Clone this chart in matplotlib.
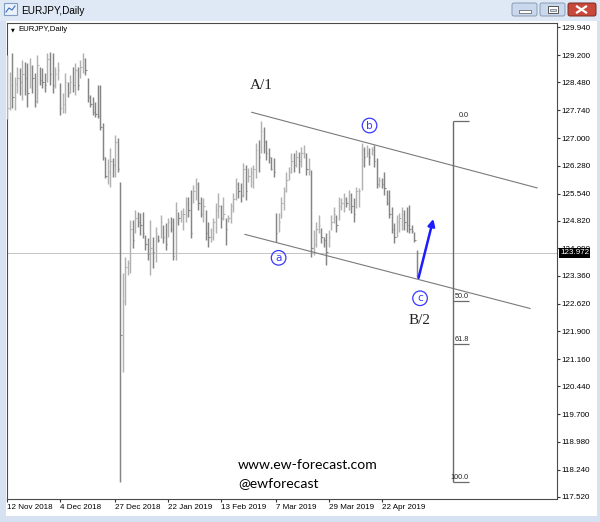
import matplotlib
matplotlib.use("Agg")
import matplotlib.pyplot as plt
import matplotlib.transforms as mtransforms
from matplotlib.patches import Rectangle, FancyBboxPatch
import numpy as np

# EURJPY daily bars (high / low / close)
highs = [129.21, 128.76, 129.26, 128.63, 128.89, 128.86, 129.08, 129.02, 129.00, 129.13,
         128.94, 128.73, 129.21, 128.89, 128.86, 128.73, 129.26, 129.29, 129.26, 128.89,
         129.02, 128.47, 128.20, 128.73, 128.49, 128.68, 128.89, 129.00, 128.89, 129.08,
         129.26, 129.13, 128.60, 128.15, 128.10, 127.96, 128.41, 128.41, 127.41, 126.51,
         126.45, 126.75, 126.48, 127.09, 127.01, 125.85,
         123.44, 123.86, 123.78, 124.84, 124.84, 125.11, 125.05, 125.03, 125.05, 124.45,
         124.37, 124.84, 124.39, 124.66, 124.45, 124.97, 124.71, 124.76, 124.90, 124.92,
         124.90, 125.32, 125.05, 125.11, 125.16, 125.45, 125.45, 125.64, 125.77, 125.95,
         125.85, 125.45, 125.42, 125.11, 124.79, 124.63, 124.90, 125.29, 125.56, 125.24,
         125.45, 124.90, 124.97, 125.29, 125.56, 125.95, 125.85, 125.82, 126.35, 126.30,
         126.22, 126.24, 126.30, 126.88, 126.96, 127.47, 127.30, 126.96, 126.75, 126.51,
         126.48, 125.03, 125.03, 125.45, 125.72, 126.11, 126.24, 126.61, 126.61, 126.69,
         126.64, 126.77, 126.83, 126.61, 126.48, 126.16, 124.58, 124.79, 124.97, 124.63,
         124.39, 124.50, 124.58, 124.97, 125.19, 124.97, 125.45, 125.42, 125.56, 125.45,
         125.64, 125.56, 125.42, 125.72, 125.69, 126.88, 126.77, 126.83, 126.75, 126.77,
         126.83, 126.48, 125.98, 125.95, 126.11, 125.64, 125.64, 125.19, 124.76, 124.97,
         125.03, 125.19, 125.11, 125.19, 125.24, 124.71, 124.52, 124.05]
lows = [127.51, 127.75, 127.80, 127.75, 128.20, 128.15, 128.02, 128.15, 127.83, 128.33,
        128.20, 127.83, 127.94, 128.41, 128.33, 128.23, 128.49, 128.41, 128.20, 128.33,
        128.55, 127.62, 127.67, 127.67, 128.10, 128.20, 128.23, 128.15, 128.28, 128.60,
        128.73, 128.67, 127.96, 127.83, 127.62, 127.57, 127.54, 127.22, 126.43, 125.95,
        125.80, 125.72, 125.98, 125.98, 126.11, 117.91,
        120.82, 122.59, 123.39, 123.44, 124.10, 124.50, 124.66, 124.45, 124.37, 124.05,
        123.78, 123.39, 123.57, 123.73, 124.26, 124.37, 124.23, 124.05, 124.39, 124.52,
        123.78, 123.78, 124.71, 124.79, 124.58, 124.79, 124.92, 124.37, 125.29, 125.37,
        125.11, 124.92, 124.79, 124.31, 124.13, 124.26, 124.31, 124.50, 124.90, 124.63,
        124.84, 124.18, 124.79, 124.76, 125.05, 125.37, 125.42, 125.32, 125.45, 125.37,
        125.85, 125.72, 125.69, 125.95, 126.11, 126.61, 126.61, 126.43, 126.35, 126.16,
        125.98, 124.26, 124.52, 124.90, 125.11, 125.58, 125.90, 126.08, 126.11, 126.24,
        126.08, 126.24, 126.48, 126.03, 126.03, 123.86, 123.92, 124.13, 124.50, 124.23,
        124.13, 123.65, 124.13, 124.58, 124.76, 124.52, 124.84, 125.11, 125.05, 125.19,
        125.11, 125.03, 124.79, 125.16, 125.19, 125.64, 126.24, 126.51, 126.30, 126.56,
        126.24, 125.69, 125.72, 125.69, 125.50, 125.24, 124.90, 124.50, 124.23, 124.39,
        124.52, 124.58, 124.58, 124.52, 124.50, 124.50, 124.26, 123.33]
closes = [127.80, 128.40, 128.10, 128.45, 128.60, 128.50, 128.70, 128.60, 128.20, 128.90,
          128.60, 128.00, 128.95, 128.55, 128.50, 128.40, 129.10, 128.70, 128.40, 128.70,
          128.80, 127.80, 127.90, 128.50, 128.20, 128.50, 128.40, 128.80, 128.40, 128.90,
          129.10, 128.80, 128.10, 127.90, 127.70, 127.65, 127.60, 127.30, 126.50, 126.00,
          126.10, 126.40, 126.30, 126.90, 126.20, 121.80,
          122.70, 123.60, 123.70, 124.60, 124.30, 124.90, 124.80, 124.70, 124.50, 124.20,
          123.95, 124.10, 124.00, 124.50, 124.30, 124.80, 124.40, 124.20, 124.80, 124.60,
          123.90, 125.10, 124.90, 125.00, 125.00, 125.30, 125.10, 124.50, 125.60, 125.80,
          125.30, 125.00, 125.20, 124.50, 124.40, 124.40, 124.80, 125.10, 125.20, 124.90,
          125.00, 124.60, 124.90, 125.20, 125.40, 125.80, 125.60, 125.50, 126.20, 125.60,
          126.00, 126.10, 126.20, 126.70, 126.50, 127.20, 126.90, 126.60, 126.50, 126.20,
          126.10, 124.50, 124.80, 125.30, 125.60, 125.90, 126.10, 126.40, 126.30, 126.50,
          126.40, 126.60, 126.60, 126.20, 126.20, 124.10, 124.20, 124.60, 124.70, 124.40,
          124.30, 124.00, 124.40, 124.80, 125.00, 124.70, 125.20, 125.30, 125.40, 125.30,
          125.50, 125.20, 125.00, 125.60, 125.60, 126.70, 126.50, 126.60, 126.50, 126.70,
          126.40, 125.80, 125.90, 125.80, 125.70, 125.30, 125.00, 124.60, 124.40, 124.80,
          124.90, 125.00, 124.80, 124.70, 124.60, 124.55, 124.30, 123.972]

date_ticks = [0, 21, 43, 64, 85, 107, 128, 149]
date_labels = ["12 Nov 2018", "4 Dec 2018", "27 Dec 2018", "22 Jan 2019",
               "13 Feb 2019", "7 Mar 2019", "29 Mar 2019", "22 Apr 2019"]
price_labels = ["129.940", "129.200", "128.480", "127.740", "127.000", "126.280",
                "125.540", "124.820", "124.090", "123.360", "122.620", "121.900",
                "121.160", "120.440", "119.700", "118.980", "118.240", "117.520"]
last_price = 123.972

# Fibonacci retracement (0.0 at the A/1 high, 100.0 at the flash crash low)
fib_top = 127.47
fib_bottom = 117.91
fib_levels = [0.0, 50.0, 61.8, 100.0]
fib_x = [177.5, 183.8]

# channel trendlines (bar index, price)
chan_up_x, chan_up_y = [97.3, 210.9], [127.69, 125.69]
chan_lo_x, chan_lo_y = [94.6, 208.1], [124.46, 122.50]

# wave labels
circ_labels = ["a", "b", "c"]
circ_x = [108.0, 144.2, 164.3]
circ_y = [123.84, 127.34, 122.77]
wave_text = ["A/1", "B/2"]
wave_x = [101.3, 164.1]
wave_y = [128.41, 122.17]
arrow_from = (163.7, 123.31)
arrow_to = (169.6, 124.87)

fig = plt.figure(figsize=(6, 5.22), dpi=100)
fig.patch.set_facecolor("#d6e2f1")

# ---- window chrome (pixel coords) ----
bg = fig.add_axes([0, 0, 1, 1], zorder=0)
bg.set_xlim(0, 600)
bg.set_ylim(522, 0)
bg.axis("off")
bg.add_patch(Rectangle((0, 0), 600, 21, facecolor="#dfe9f5", edgecolor="none"))
bg.add_patch(Rectangle((6, 21), 591, 495, facecolor="white", edgecolor="none"))
bg.add_patch(Rectangle((4, 3), 13, 12, facecolor="#eaf1fa", edgecolor="#7f9cc4", lw=0.8))
bg.plot([6, 9, 12, 15], [12, 8, 10, 6], color="#3a6fc0", lw=0.8)
bg.text(21, 10.5, "EURJPY,Daily", fontsize=7.2, va="center", ha="left",
        family="Liberation Sans", color="black")
for bx in [512, 540]:
    bg.add_patch(FancyBboxPatch((bx, 3), 25, 13, boxstyle="round,pad=0,rounding_size=2",
                                facecolor="#c9d8ec", edgecolor="#8a9bb4", lw=0.7))
bg.add_patch(Rectangle((518.5, 10), 12, 2.5, facecolor="white", edgecolor="#555", lw=0.5))
bg.add_patch(Rectangle((548, 6), 10, 7, facecolor="white", edgecolor="#555", lw=0.7))
bg.add_patch(Rectangle((550, 8.5), 6, 2.5, facecolor="#c9d8ec", edgecolor="#555", lw=0.4))
bg.add_patch(FancyBboxPatch((568, 3), 28, 13, boxstyle="round,pad=0,rounding_size=2",
                            facecolor="#c8483c", edgecolor="#7a2a22", lw=0.7))
bg.plot([577, 586], [6.5, 12.5], color="white", lw=1.6)
bg.plot([577, 586], [12.5, 6.5], color="white", lw=1.6)

# ---- price chart ----
ax = fig.add_axes([6.7 / 600, 23 / 522, 550 / 600, 476.3 / 522], zorder=1)
ax.set_facecolor("white")
ax.set_xlim(-0.24, 218.7)
ax.set_ylim(117.46, 130.06)

idx = np.arange(len(highs))
cl = np.array(closes)
prev = np.concatenate([[cl[0]], cl[:-1]])
cols = np.where(cl >= prev, "#b2b2b2", "#858585")
ax.vlines(idx, lows, highs, colors=cols, lw=1.05, zorder=3)
ax.hlines(cl, idx, idx + 0.55, colors=cols, lw=0.8, zorder=3)

ax.axhline(last_price, color="#c4c4c4", lw=0.7, zorder=2)

ax.plot(chan_up_x, chan_up_y, color="#7a7a7a", lw=0.8, zorder=4)
ax.plot(chan_lo_x, chan_lo_y, color="#7a7a7a", lw=0.8, zorder=4)

# fibonacci
ax.vlines(fib_x[0], fib_bottom, fib_top, color="#6a6a6a", lw=1.0, zorder=4)
for lvl in fib_levels:
    p = fib_top - lvl / 100.0 * (fib_top - fib_bottom)
    ax.hlines(p, fib_x[0], fib_x[1], color="#6a6a6a", lw=0.9, zorder=4)
    ax.text(fib_x[1] - 0.1, p + 0.03, f"{lvl:.1f}", fontsize=5.2, ha="right",
            va="bottom", family="Liberation Sans", color="#222222", zorder=5)

for t, x, y in zip(circ_labels, circ_x, circ_y):
    ax.text(x, y, t, fontsize=7.5, color="#3838ff", ha="center", va="center",
            family="DejaVu Sans", zorder=6,
            bbox=dict(boxstyle="circle,pad=0.22", fc="none", ec="#3838ff", lw=0.9))
for t, x, y in zip(wave_text, wave_x, wave_y):
    ax.text(x, y, t, fontsize=11, color="#222222", ha="center", va="center",
            family="Liberation Serif", zorder=6)

ax.annotate("", xy=arrow_to, xytext=arrow_from, zorder=6,
            arrowprops=dict(arrowstyle="-|>", color="#1c1cff", lw=1.8, mutation_scale=10,
                            shrinkA=0, shrinkB=0))

ax.text(0.4205, 0.0714, "www.ew-forecast.com", transform=ax.transAxes, fontsize=10.1,
        family="Lato", ha="left", va="center", color="black", zorder=6)
ax.text(0.4205, 0.0336, "@ewforecast", transform=ax.transAxes, fontsize=10.1,
        family="Lato", ha="left", va="center", color="black", zorder=6)

ax.text(0.0075, 0.985, "\u25bc", transform=ax.transAxes, fontsize=3.5,
        family="DejaVu Sans", ha="left", va="center", color="black")
ax.text(0.022, 0.985, "EURJPY,Daily", transform=ax.transAxes, fontsize=5.6,
        family="Liberation Sans", ha="left", va="center", color="black")

# axes styling
for s in ax.spines.values():
    s.set_color("#4a4a4a")
    s.set_linewidth(0.8)
ax.set_xticks(date_ticks)
ax.set_xticklabels(date_labels, ha="left", fontsize=5.8, family="Liberation Sans")
ax.tick_params(axis="x", direction="out", length=2.2, pad=1.2, color="#333333")
ax.yaxis.tick_right()
ax.set_yticks([float(s) for s in price_labels])
ax.set_yticklabels(price_labels, fontsize=5.8, family="Liberation Sans")
ax.tick_params(axis="y", direction="out", length=2.2, pad=1.5, color="#333333")

trans = mtransforms.blended_transform_factory(ax.transAxes, ax.transData)
ax.text(1.006, last_price, f"{last_price:.3f}", transform=trans, fontsize=5.8,
        family="Liberation Sans", color="white", ha="left", va="center", zorder=10,
        clip_on=False, bbox=dict(boxstyle="square,pad=0.15", fc="black", ec="none"))

fig.savefig("out.png", dpi=100, facecolor=fig.get_facecolor())
